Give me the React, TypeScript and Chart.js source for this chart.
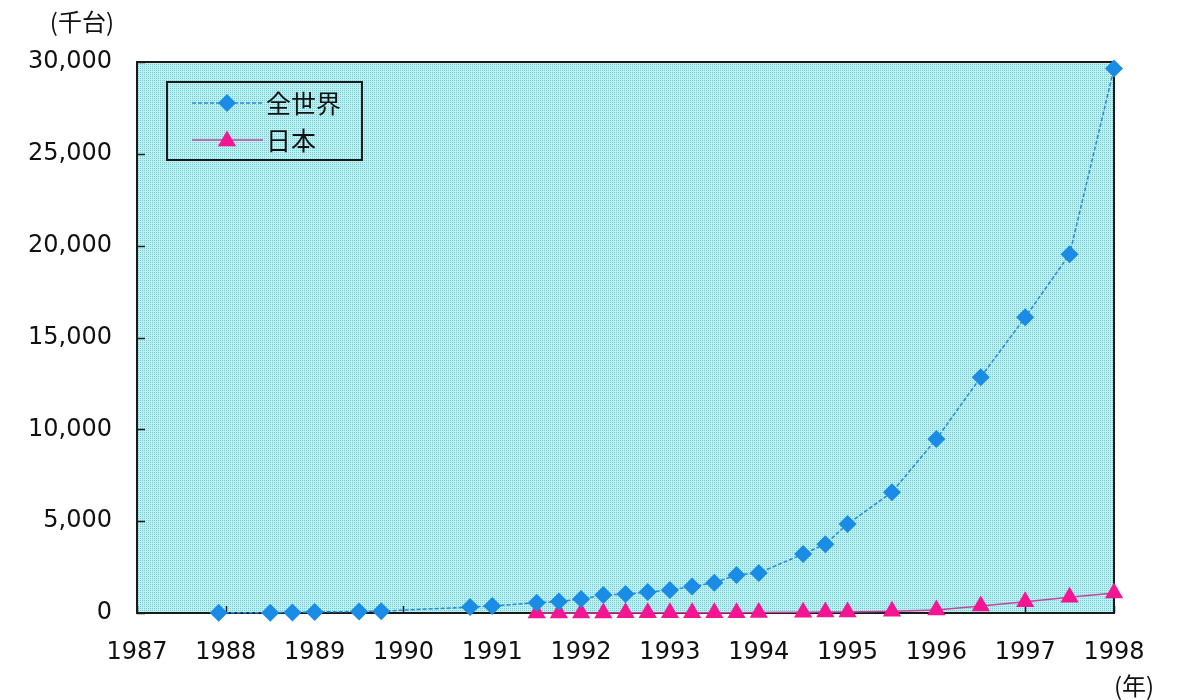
import React, { useEffect, useRef } from 'react';
import { Chart, registerables } from 'chart.js';

Chart.register(...registerables);

// ---- data ----
const seriesNames = ['全世界', '日本'];
const yUnitLabel = '(千台)';
const xUnitLabel = '(年)';

const worldX = [1987.92, 1988.5, 1988.75, 1989.0, 1989.5, 1989.75, 1990.75, 1991.0, 1991.5, 1991.75, 1992.0, 1992.25, 1992.5, 1992.75, 1993.0, 1993.25, 1993.5, 1993.75, 1994.0, 1994.5, 1994.75, 1995.0, 1995.5, 1996.0, 1996.5, 1997.0, 1997.5, 1998.0];
const worldY = [10, 20, 30, 60, 80, 100, 320, 380, 560, 620, 760, 980, 1030, 1140, 1250, 1440, 1650, 2070, 2180, 3210, 3750, 4840, 6580, 9470, 12840, 16100, 19530, 29650];

const japanX = [1991.5, 1991.75, 1992.0, 1992.25, 1992.5, 1992.75, 1993.0, 1993.25, 1993.5, 1993.75, 1994.0, 1994.5, 1994.75, 1995.0, 1995.5, 1996.0, 1996.5, 1997.0, 1997.5, 1998.0];
const japanY = [3, 4, 5, 6, 8, 10, 12, 15, 18, 20, 25, 40, 50, 60, 100, 170, 380, 615, 860, 1090];

const xMin = 1987;
const xMax = 1998;
const yMin = 0;
const yMax = 30000;
const yStep = 5000;

const WORLD_LINE = '#2a8ad8';
const WORLD_MARK = '#1a8ce6';
const JAPAN_LINE = '#c8449a';
const JAPAN_MARK = '#f51592';

function makePattern(ctx: CanvasRenderingContext2D) {
  const c = document.createElement('canvas');
  c.width = 2;
  c.height = 2;
  const p = c.getContext('2d')!;
  p.fillStyle = 'rgb(196,238,238)';
  p.fillRect(0, 0, 2, 2);
  p.fillStyle = 'rgb(118,204,210)';
  p.fillRect(0, 0, 1, 1);
  return ctx.createPattern(c, 'repeat');
}

function drawDiamond(ctx: CanvasRenderingContext2D, x: number, y: number, r: number, color: string) {
  ctx.beginPath();
  ctx.moveTo(x, y - r);
  ctx.lineTo(x + r, y);
  ctx.lineTo(x, y + r);
  ctx.lineTo(x - r, y);
  ctx.closePath();
  ctx.fillStyle = color;
  ctx.fill();
}

function drawTriangle(ctx: CanvasRenderingContext2D, x: number, y: number, r: number, color: string) {
  ctx.beginPath();
  for (let i = 0; i < 3; i++) {
    const a = (i * 2 * Math.PI) / 3;
    const px = x + Math.sin(a) * r;
    const py = y - Math.cos(a) * r;
    if (i === 0) ctx.moveTo(px, py);
    else ctx.lineTo(px, py);
  }
  ctx.closePath();
  ctx.fillStyle = color;
  ctx.fill();
}

export default function App() {
  const canvasRef = useRef<HTMLCanvasElement | null>(null);

  useEffect(() => {
    const canvas = canvasRef.current;
    if (!canvas) return;
    const ctx0 = canvas.getContext('2d')!;
    const pattern = makePattern(ctx0);

    const decor = {
      id: 'decor',
      beforeDraw(chart: any) {
        const { ctx, chartArea: a } = chart;
        ctx.save();
        ctx.fillStyle = '#ffffff';
        ctx.fillRect(0, 0, chart.width, chart.height);
        ctx.fillStyle = pattern as any;
        ctx.fillRect(a.left, a.top, a.right - a.left, a.bottom - a.top);
        ctx.restore();
      },
      beforeDatasetsDraw(chart: any) {
        const { ctx, chartArea: a, scales } = chart;
        ctx.save();
        ctx.strokeStyle = '#1a1a1a';
        ctx.lineWidth = 2;
        ctx.strokeRect(a.left, a.top, a.right - a.left, a.bottom - a.top);
        ctx.lineWidth = 1.5;
        scales.y.ticks.forEach((t: any) => {
          const py = Math.round(scales.y.getPixelForValue(t.value)) + 0.5;
          ctx.beginPath();
          ctx.moveTo(a.left, py);
          ctx.lineTo(a.left + 8, py);
          ctx.stroke();
        });
        scales.x.ticks.forEach((t: any) => {
          const px = Math.round(scales.x.getPixelForValue(t.value)) + 0.5;
          ctx.beginPath();
          ctx.moveTo(px, a.bottom);
          ctx.lineTo(px, a.bottom - 7);
          ctx.stroke();
        });
        ctx.restore();
      },
      afterDraw(chart: any) {
        const { ctx, chartArea: a } = chart;
        ctx.save();
        // legend box
        const lx = a.left + 30;
        const ly = a.top + 20;
        const lw = 195;
        const lh = 78;
        ctx.strokeStyle = '#1a1a1a';
        ctx.lineWidth = 2;
        ctx.strokeRect(lx, ly, lw, lh);
        const row1 = ly + 21;
        const row2 = ly + 58;
        const lineStart = lx + 25;
        const lineEnd = lx + 96;
        const markX = lx + 60;
        ctx.lineWidth = 1.5;
        ctx.strokeStyle = WORLD_LINE;
        ctx.setLineDash([4, 2]);
        ctx.beginPath();
        ctx.moveTo(lineStart, row1);
        ctx.lineTo(lineEnd, row1);
        ctx.stroke();
        ctx.setLineDash([]);
        drawDiamond(ctx, markX, row1, 9, WORLD_MARK);
        ctx.strokeStyle = JAPAN_LINE;
        ctx.beginPath();
        ctx.moveTo(lineStart, row2);
        ctx.lineTo(lineEnd, row2);
        ctx.stroke();
        drawTriangle(ctx, markX, row2 + 1, 10.5, JAPAN_MARK);
        ctx.fillStyle = '#111';
        ctx.font = '25px "Noto Sans CJK JP"';
        ctx.textAlign = 'left';
        ctx.textBaseline = 'middle';
        ctx.fillText(seriesNames[0], lx + 99, row1);
        ctx.fillText(seriesNames[1], lx + 99, row2);
        // unit labels
        ctx.font = '24px "Noto Sans CJK JP"';
        ctx.textAlign = 'right';
        ctx.fillText(yUnitLabel, 114, 22);
        ctx.textAlign = 'center';
        ctx.fillText(xUnitLabel, 1134, 686);
        ctx.restore();
      },
    };

    const tickFont = { family: '"DejaVu Sans"', size: 24 };

    const chart = new Chart(canvas, {
      type: 'line',
      data: {
        datasets: [
          {
            label: seriesNames[0],
            data: worldX.map((x, i) => ({ x, y: worldY[i] })),
            borderColor: WORLD_LINE,
            borderWidth: 1.5,
            borderDash: [4, 2],
            pointStyle: 'rectRot',
            pointRadius: 9,
            pointBackgroundColor: WORLD_MARK,
            pointBorderColor: WORLD_MARK,
            pointBorderWidth: 0,
            tension: 0,
            clip: false as any,
          },
          {
            label: seriesNames[1],
            data: japanX.map((x, i) => ({ x, y: japanY[i] })),
            borderColor: JAPAN_LINE,
            borderWidth: 1.5,
            pointStyle: 'triangle',
            pointRadius: 10.5,
            pointBackgroundColor: JAPAN_MARK,
            pointBorderColor: JAPAN_MARK,
            pointBorderWidth: 0,
            tension: 0,
            clip: false as any,
          },
        ],
      },
      options: {
        animation: false,
        responsive: false,
        devicePixelRatio: 1,
        layout: { padding: { top: 62, right: 64, left: 0, bottom: 0 } },
        plugins: {
          legend: { display: false },
          tooltip: { enabled: false },
        },
        scales: {
          x: {
            type: 'linear',
            min: xMin,
            max: xMax,
            grid: { display: false, drawTicks: false },
            border: { display: false },
            ticks: {
              stepSize: 1,
              autoSkip: false,
              maxRotation: 0,
              padding: 25,
              color: '#111',
              font: tickFont,
              callback: (v: any) => String(v),
            },
            afterFit: (scale: any) => {
              scale.height = 87;
            },
          },
          y: {
            type: 'linear',
            min: yMin,
            max: yMax,
            grid: { display: false, drawTicks: false },
            border: { display: false },
            ticks: {
              stepSize: yStep,
              padding: 25,
              color: '#111',
              font: tickFont,
              callback: (v: any) => Number(v).toLocaleString('en-US'),
            },
            afterFit: (scale: any) => {
              scale.width = 137;
            },
          },
        },
      },
      plugins: [decor],
    });

    return () => {
      chart.destroy();
    };
  }, []);

  return (
    <div style={{ position: 'fixed', left: 0, top: 0, width: 1178, height: 700, background: '#fff' }}>
      <canvas ref={canvasRef} width={1178} height={700} style={{ display: 'block' }} />
    </div>
  );
}
